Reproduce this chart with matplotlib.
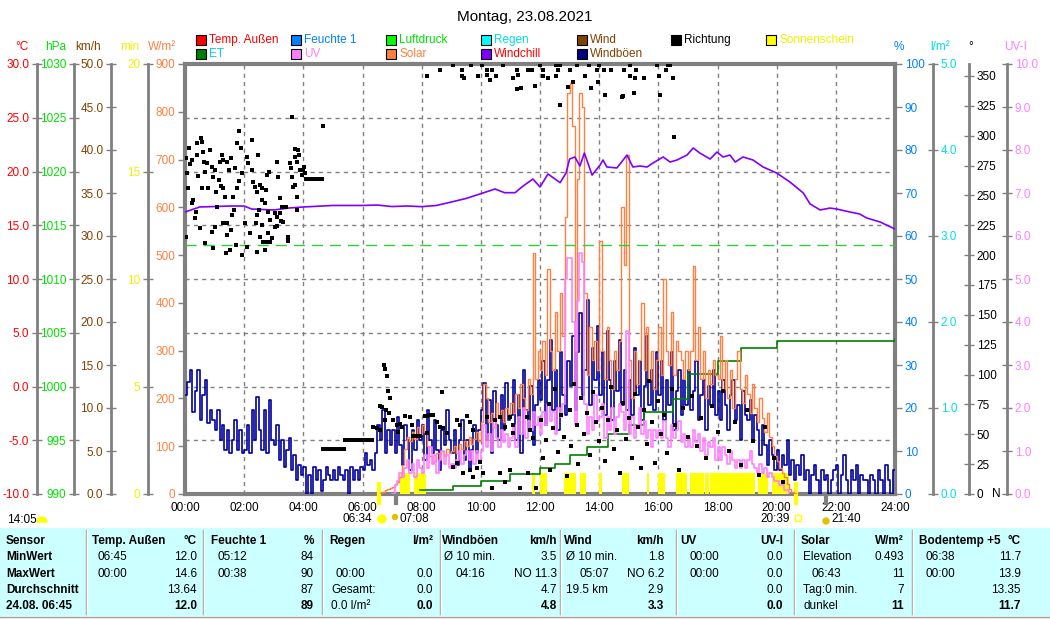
import matplotlib
matplotlib.use("Agg")
import matplotlib.pyplot as plt
from matplotlib.patches import Rectangle, Wedge, Circle
from matplotlib.transforms import IdentityTransform
import numpy as np

plt.rcParams['font.family'] = ['Liberation Sans', 'DejaVu Sans']
plt.rcParams['font.size'] = 8.5

# ---------------- data ----------------
title = "Montag, 23.08.2021"
hour_labels = [f"{h:02d}:00" for h in range(0, 25, 2)]

# wind gusts (km/h), 5-minute steps from 00:00
gust_rows = [
    [11.5, 13.0, 14.4, 9.5, 12.0, 14.4, 8.6, 11.5, 13.3, 8.3, 9.8, 8.6],
    [7.4, 9.8, 6.3, 8.0, 5.1, 7.4, 4.8, 6.3, 8.6, 5.1, 7.4, 4.8],
    [5.1, 8.0, 4.8, 9.8, 6.3, 11.3, 7.4, 5.1, 9.8, 4.8, 10.9, 6.3],
    [5.7, 8.0, 4.0, 6.3, 3.1, 5.1, 6.5, 2.8, 4.5, 1.6, 3.4, 2.2],
    [3.1, 0.0, 2.2, 0.0, 3.1, 1.6, 2.8, 0.3, 1.6, 3.1, 2.2, 1.6],
    [2.8, 1.6, 3.1, 2.2, 1.6, 2.8, 0.0, 3.1, 1.6, 2.8, 1.6, 3.1],
    [2.8, 4.8, 3.4, 4.0, 2.8, 4.8, 8.0, 6.3, 9.8, 4.8, 7.4, 5.7],
    [7.4, 4.8, 9.0, 5.7, 3.4, 8.0, 6.3, 2.8, 7.4, 5.1, 8.6, 6.3],
    [8.0, 4.0, 9.8, 6.3, 4.8, 8.6, 5.1, 2.8, 7.4, 5.7, 9.8, 6.3],
    [4.8, 7.4, 3.4, 6.3, 8.6, 4.0, 6.3, 2.8, 5.1, 8.0, 4.8, 7.4],
    [9.8, 12.9, 6.3, 10.9, 4.8, 12.0, 8.0, 6.3, 11.5, 7.4, 12.9, 8.6],
    [9.2, 13.3, 6.3, 11.5, 4.8, 14.4, 9.8, 7.4, 12.6, 5.7, 10.3, 13.3],
    [10.9, 15.5, 8.0, 13.3, 17.9, 9.8, 14.4, 7.4, 16.5, 11.5, 9.2, 15.5],
    [12.6, 18.4, 9.8, 16.5, 21.0, 11.5, 14.4, 22.6, 10.3, 17.0, 13.3, 19.5],
    [11.5, 16.5, 9.2, 19.0, 13.3, 8.6, 15.5, 12.0, 17.9, 10.3, 14.4, 9.8],
    [13.3, 9.2, 17.0, 11.5, 15.5, 8.6, 12.6, 18.4, 10.3, 14.4, 9.8, 16.5],
    [11.5, 15.5, 8.6, 13.3, 10.3, 16.5, 7.4, 12.0, 14.4, 9.2, 13.3, 10.3],
    [14.4, 9.8, 12.0, 15.5, 8.6, 11.5, 13.3, 7.4, 12.6, 10.3, 14.4, 9.2],
    [12.0, 8.6, 13.3, 10.3, 7.4, 11.5, 13.3, 8.6, 10.3, 6.3, 12.0, 9.2],
    [8.6, 10.9, 6.3, 9.2, 7.4, 4.5, 8.0, 5.7, 3.4, 6.3, 4.5, 2.8],
    [5.1, 2.8, 4.5, 3.4, 6.3, 2.2, 4.0, 1.6, 3.4, 2.2, 4.5, 1.6],
    [2.8, 0.0, 2.2, 3.4, 1.6, 0.0, 2.8, 1.6, 2.2, 0.0, 1.6, 2.8],
    [3.4, 0.0, 2.2, 4.5, 1.6, 0.0, 2.8, 1.6, 3.4, 0.0, 2.2, 1.6],
    [1.6, 0.0, 2.2, 1.6, 0.0, 2.8, 1.6, 0.0, 3.4, 1.6, 0.0, 2.8],
]

# solar radiation (W/m2), 5-minute steps from 06:35
solar_start_h = 6 + 35 / 60
solar_wm2 = [
    2, 5, 8, 10, 12,
    15, 20, 25, 35, 60, 95, 120, 110, 130, 115, 140, 125,
    145, 130, 100, 80, 65, 70, 85, 75, 90, 80, 95, 85,
    90, 100, 85, 105, 95, 110, 100, 120, 105, 115, 130, 110,
    150, 230, 200, 150, 170, 140, 190, 160, 175, 150, 180, 165,
    190, 170, 210, 180, 230, 200, 175, 240, 210, 505, 240, 300,
    260, 320, 250, 470, 300, 260, 380, 300, 420, 330, 580, 840,
    860, 770, 300, 660, 840, 810, 420, 250, 350, 280, 320, 260,
    530, 300, 240, 350, 280, 220, 300, 260, 320, 600, 480, 710,
    280, 200, 300, 230, 280, 400, 260, 350, 240, 300, 220, 280,
    350, 250, 450, 300, 270, 380, 250, 320, 300, 280, 240, 300,
    260, 300, 477, 280, 350, 240, 300, 200, 260, 230, 280, 250,
    240, 330, 220, 280, 200, 260, 180, 240, 300, 220, 190, 250,
    210, 170, 230, 180, 150, 200, 160, 130, 170, 120, 100, 80,
    70, 55, 45, 35, 20, 10, 5, 2, 0,
]

# UV index, 5-minute steps from 07:00
uv_start_h = 7.0
uv_index = [
    0.0, 0.2, 0.3, 0.5, 0.4, 0.6, 0.8, 0.5, 0.7, 0.4, 0.8, 0.6,
    0.5, 0.9, 0.6, 1.1, 0.7, 0.9, 0.5, 0.8, 1.0, 0.7, 0.9, 0.6,
    0.7, 0.6, 0.8, 1.0, 0.7, 0.9, 1.0, 0.8, 1.0, 0.7, 1.0, 0.8,
    1.0, 1.6, 1.1, 1.4, 1.0, 1.7, 1.3, 1.1, 1.5, 1.2, 1.4, 1.1,
    1.3, 1.6, 1.1, 1.8, 1.4, 2.0, 1.3, 1.7, 1.5, 1.9, 1.6, 1.8,
    1.4, 1.9, 1.6, 2.1, 1.7, 1.9, 1.4, 2.0, 1.8, 2.1, 5.0, 5.5,
    5.5, 4.0, 1.6, 4.5, 5.6, 5.4, 2.1, 1.4, 1.8, 1.5, 2.3, 1.7,
    1.8, 2.1, 1.3, 1.8, 1.5, 2.0, 1.4, 1.8, 2.1, 1.9, 1.5, 3.8,
    1.4, 1.8, 1.3, 1.6, 2.0, 1.4, 1.7, 1.3, 1.5, 1.1, 1.5, 1.3,
    1.5, 1.3, 1.7, 1.3, 1.1, 1.6, 1.3, 1.5, 1.7, 1.2, 1.4, 1.1,
    1.3, 1.1, 1.5, 1.2, 1.4, 1.0, 1.3, 0.9, 1.2, 1.1, 1.3, 0.8,
    1.1, 0.8, 1.1, 0.9, 0.7, 1.0, 0.8, 0.6, 0.8, 0.6, 0.8, 0.6,
    0.8, 1.0, 0.7, 0.6, 0.5, 0.7, 0.5, 0.6, 0.4, 0.5, 0.4, 0.3,
    0.3, 0.2, 0.2, 0.1, 0.1, 0.0,
]

# windchill (°C)
windchill_h = [0.0, 0.5, 1.0, 1.5, 2.0, 2.25, 3.0, 3.5, 4.0, 5.0, 6.0, 6.5, 7.0, 7.5, 8.0,
               8.5, 9.0, 9.5, 10.07, 10.48, 10.8, 11.16, 11.4, 11.76, 12.0, 12.27, 12.68,
               12.88, 13.0, 13.18, 13.35, 13.5, 13.76, 14.03, 14.13, 14.26, 14.6, 14.94,
               15.14, 15.38, 15.62, 15.82, 16.16, 16.4, 16.63, 16.97, 17.18, 17.4, 17.75,
               17.98, 18.19, 18.42, 18.6, 18.86, 19.2, 19.54, 20.0, 20.45, 20.9, 21.13,
               21.47, 21.8, 22.03, 22.48, 22.8, 23.05, 23.5, 23.93, 24.0]
windchill_c = [16.23, 16.70, 16.74, 16.79, 16.79, 16.51, 16.42, 16.60, 16.70, 16.84, 16.84,
               16.88, 16.74, 16.79, 16.73, 16.84, 17.16, 17.49, 18.0, 18.37, 18.03, 18.03,
               18.59, 19.30, 18.56, 19.77, 18.96, 19.86, 21.16, 21.35, 20.51, 21.72, 19.67,
               20.60, 21.07, 20.42, 20.33, 21.53, 20.42, 20.51, 20.42, 20.79, 21.35, 20.88,
               21.07, 21.53, 22.19, 21.72, 21.16, 21.81, 21.35, 21.53, 20.88, 21.35, 21.07,
               20.42, 19.86, 19.02, 18.0, 16.98, 16.42, 16.60, 16.51, 16.23, 16.05, 15.67,
               15.30, 14.74, 14.65]

# evapotranspiration (l/m2), cumulative steps
et_h = [7.95, 9.05, 10.0, 11.0, 12.0, 12.5, 13.0, 13.6, 14.3, 15.0, 15.5, 16.5, 17.0,
        18.0, 18.8, 20.0, 24.0]
et_lm2 = [0.05, 0.09, 0.15, 0.23, 0.30, 0.35, 0.45, 0.55, 0.70, 0.80, 0.95, 1.10, 1.40,
          1.55, 1.70, 1.78, 1.80]

# air pressure (hPa)
pressure_h = [0.0, 24.0]
pressure_hpa = [1013.2, 1013.2]

# sunshine (minutes) intervals
sun_start = [7.27, 7.74, 11.73, 12.00, 12.81, 13.35, 13.99, 14.77, 15.62, 15.99, 16.60,
             17.07, 17.58, 17.75, 19.37, 19.84]
sun_end = [7.61, 8.15, 11.83, 12.24, 13.22, 13.55, 14.10, 15.01, 15.69, 16.23, 16.97,
           17.54, 17.71, 19.27, 19.71, 20.42]
sun_minutes = [1.0] * len(sun_start)

# wind direction (hour, degrees)
richtung_pts = [
    (0.03, 281.5), (0.15, 289.4), (0.22, 279.6), (0.17, 276.2), (0.39, 294.1), (0.53, 297.7),
    (0.59, 294.9), (0.62, 286.6), (0.64, 278.2), (0.39, 283.8), (0.06, 268.4), (0.11, 255.9),
    (0.28, 246.1), (0.22, 243.3), (0.36, 236.3), (0.34, 230.8), (0.03, 215.4), (0.51, 222.4),
    (0.68, 209.8), (0.93, 205.7), (0.90, 219.6), (1.01, 223.8), (1.07, 240.5), (0.96, 265.7),
    (0.84, 288.0), (0.90, 274.0), (1.01, 271.2), (1.18, 278.2), (1.24, 283.8), (1.30, 279.6),
    (1.16, 262.9), (1.22, 257.8), (1.30, 255.9), (1.35, 248.9), (1.05, 253.1), (0.79, 255.9),
    (0.56, 255.9), (0.45, 266.2), (0.68, 269.8), (0.73, 276.8), (1.50, 271.2), (1.41, 278.2),
    (1.54, 281.5), (1.69, 272.6), (1.77, 294.1), (1.84, 304.1), (1.88, 289.4), (1.91, 268.4),
    (1.84, 262.3), (1.75, 255.9), (1.63, 248.9), (1.66, 237.7), (1.58, 233.6), (1.41, 226.6),
    (1.54, 221.0), (1.41, 216.8), (1.30, 226.6), (1.39, 202.0), (1.52, 204.3), (1.72, 208.4),
    (1.91, 200.1), (2.03, 226.6), (2.08, 207.1), (2.20, 218.2), (2.25, 296.3), (2.25, 271.2),
    (2.14, 276.8), (2.08, 282.4), (2.31, 261.5), (2.37, 257.3), (2.48, 283.8), (2.53, 258.7),
    (2.42, 253.1), (2.59, 255.9), (2.59, 246.1), (2.51, 237.7), (2.42, 233.6), (2.40, 226.6),
    (2.59, 225.2), (2.53, 215.4), (2.65, 211.2), (2.42, 202.9), (2.70, 204.3), (2.78, 267.0),
    (2.85, 269.8), (2.74, 254.5), (2.70, 243.3), (2.82, 236.3), (2.87, 229.4), (2.82, 218.2),
    (2.78, 211.2), (2.87, 211.2), (2.93, 214.0), (3.04, 223.8), (3.10, 278.2), (3.15, 265.7),
    (3.21, 247.5), (3.27, 240.5), (3.21, 234.9), (3.10, 232.2), (3.04, 234.9), (3.12, 224.4),
    (3.23, 228.5), (3.32, 228.0), (3.41, 240.5), (3.47, 215.4), (3.47, 211.8), (3.55, 276.8),
    (3.57, 272.6), (3.61, 265.7), (3.66, 257.3), (3.72, 288.5), (3.72, 282.4), (3.77, 278.2),
    (3.83, 288.0), (3.85, 283.8), (3.89, 271.2), (3.94, 267.0), (4.00, 271.2), (4.02, 274.0),
    (3.77, 248.9), (3.80, 237.7), (3.38, 240.5), (3.61, 315.3), (3.72, 258.7), (4.65, 308.3),
    (4.06, 269.0),
    (4.08, 264), (4.14, 264), (4.20, 264), (4.26, 264), (4.32, 264), (4.38, 264), (4.44, 264),
    (4.50, 264), (4.56, 264), (4.62, 264),
    (4.67, 38), (4.73, 38), (4.79, 38), (4.85, 38), (4.91, 38), (4.97, 38), (5.03, 38),
    (5.09, 38), (5.15, 38), (5.21, 38), (5.27, 38), (5.33, 38), (5.39, 38),
    (5.42, 45), (5.48, 45), (5.54, 45), (5.60, 45), (5.66, 45), (5.72, 45), (5.78, 45),
    (5.84, 45), (5.90, 45), (5.96, 45), (6.02, 45), (6.08, 45), (6.14, 45), (6.20, 45),
    (6.26, 45), (6.32, 45),
    (6.73, 108), (6.76, 105), (6.82, 98.8), (6.87, 86), (6.93, 80), (6.59, 73.7), (6.65, 72.8),
    (6.79, 70.3), (6.90, 67.8), (6.34, 56), (6.48, 55), (6.59, 53.6), (6.76, 62), (7.04, 62),
    (7.16, 57.8), (7.27, 59), (7.21, 52), (7.32, 56.3), (7.44, 65.3), (7.61, 64.7),
    (7.66, 57.8), (7.72, 48.6), (7.78, 48.6), (7.83, 48.6), (7.89, 48.6), (7.94, 48.6),
    (8.11, 65.5), (8.17, 65.5), (8.26, 66), (8.33, 66), (8.39, 66), (8.17, 51.3), (8.68, 85.6),
    (8.51, 60.5), (8.62, 56.3), (8.73, 55), (8.85, 50.8), (9.18, 62), (9.30, 57.8),
    (9.52, 65.5), (9.63, 60.5), (9.75, 53.6), (9.07, 22.9), (9.18, 25.7), (9.41, 17.3),
    (9.63, 20), (9.75, 14.5), (9.86, 21.5), (9.97, 27), (10.08, 17.3), (10.37, 4.8),
    (10.2, 64.7), (10.48, 62), (10.65, 64.7), (10.82, 56.3), (10.99, 64.7), (11.1, 57.8),
    (10.65, 17.3), (10.82, 10.3), (10.99, 20), (11.32, 4.8), (11.55, 64.7), (11.66, 53.6),
    (11.77, 46.6), (11.6, 17.3), (11.88, 4.8), (11.1, 50.8),
    (12.05, 62), (12.1, 30), (12.2, 45), (12.3, 75), (12.35, 20), (12.45, 55), (12.5, 88),
    (12.6, 35), (12.7, 66), (12.8, 48), (12.9, 15), (13.0, 70), (13.05, 40), (13.15, 92),
    (13.25, 58), (13.3, 25), (13.4, 80), (13.5, 50), (13.6, 68), (13.7, 33), (13.8, 85),
    (13.9, 60), (14.0, 44), (14.1, 72), (14.2, 28), (14.3, 62), (14.4, 90), (14.5, 38),
    (14.6, 54), (14.7, 18), (14.8, 76), (14.9, 46), (15.0, 64), (15.1, 30), (15.2, 84),
    (15.3, 56), (15.4, 22), (15.5, 70), (15.6, 42), (15.7, 95), (15.8, 60), (15.9, 26),
    (16.0, 78), (16.1, 50), (16.2, 66), (16.3, 34), (16.45, 88), (16.55, 58), (16.7, 20),
    (16.85, 72), (17.0, 48), (17.15, 82), (17.3, 40), (17.45, 64), (17.6, 30), (17.8, 74),
    (18.0, 52), (18.2, 86), (18.4, 36), (18.6, 60), (18.8, 24), (19.0, 70), (19.2, 44),
    (19.4, 16), (19.6, 56), (19.9, 30), (20.2, 10),
    (8.17, 350.2), (8.62, 355), (9.07, 359.4), (9.35, 355), (9.38, 350), (9.44, 348.5),
    (9.67, 359.4), (9.89, 350), (10.03, 359.4), (10.2, 355), (10.2, 350.8), (10.3, 346.6),
    (10.37, 355), (10.51, 350.2), (10.76, 359.4), (11.1, 348), (11.21, 355), (11.27, 350.8),
    (11.23, 339), (11.35, 339.6), (11.6, 355), (11.72, 355), (11.83, 341.8), (12.0, 359.4),
    (12.09, 350.2), (12.11, 355), (12.28, 348.5), (12.54, 359.4), (12.54, 350.2),
    (12.68, 359.4), (12.6, 355), (12.68, 326), (12.94, 341), (13.01, 355), (13.1, 345),
    (13.24, 359.4), (13.52, 350.2), (13.66, 359.4), (13.73, 340), (13.94, 355), (13.97, 345),
    (13.99, 359.4), (14.16, 355), (14.2, 334), (14.39, 355), (14.76, 332.6), (14.8, 333.5),
    (14.84, 355), (15.04, 350.2), (15.04, 359.4), (15.18, 336), (15.21, 348.5), (15.25, 355),
    (15.52, 348.5), (15.95, 359.4), (16.02, 350.2), (16.06, 334.3), (16.26, 355),
    (16.32, 359.4), (16.39, 359.4), (16.48, 348.5), (16.53, 299),
]

# astronomical times shown below the axis
moonrise_label, moonrise_h = "14:05", 14 + 5 / 60
sunrise_label, sunrise_h = "06:34", 6 + 34 / 60
dawn_label, dawn_h = "07:08", 7 + 8 / 60
sunset_label, sunset_h = "20:39", 20 + 39 / 60
dusk_label, dusk_h = "21:40", 21 + 40 / 60

# table
table_headers = [("Sensor", ""), ("Temp. Außen", "°C"), ("Feuchte 1", "%"), ("Regen", "l/m²"),
                 ("Windböen", "km/h"), ("Wind", "km/h"), ("UV", "UV-I"), ("Solar", "W/m²"),
                 ("Bodentemp +5", "°C")]
row_names = ["MinWert", "MaxWert", "Durchschnitt", "24.08. 06:45"]
cells_left = [
    ["06:45", "00:00", "", ""],
    ["05:12", "00:38", "", ""],
    ["", "00:00", "Gesamt:", "0.0 l/m²"],
    ["Ø 10 min.", "04:16", "", ""],
    ["Ø 10 min.", "05:07", "19.5 km", ""],
    ["00:00", "00:00", "", ""],
    ["Elevation", "06:43", "Tag:0 min.", "dunkel"],
    ["06:38", "00:00", "", ""],
]
cells_right = [
    ["12.0", "14.6", "13.64", "12.0"],
    ["84", "90", "87", "89"],
    ["", "0.0", "0.0", "0.0"],
    ["3.5", "NO 11.3", "4.7", "4.8"],
    ["1.8", "NO 6.2", "2.9", "3.3"],
    ["0.0", "0.0", "0.0", "0.0"],
    ["0.493", "11", "7", "11"],
    ["11.7", "13.9", "13.35", "11.7"],
]

legend_items = [
    [("Temp. Außen", "#ff0000", "#ff0000"), ("Feuchte 1", "#0080ff", "#0080ff"),
     ("Luftdruck", "#00ff00", "#00e000"), ("Regen", "#00ffff", "#00e0e0"),
     ("Wind", "#804000", "#804000"), ("Richtung", "#000000", "#000000"),
     ("Sonnenschein", "#ffff00", "#f0f000")],
    [("ET", "#008000", "#00d0d0"), ("UV", "#ff80ff", "#ff80ff"),
     ("Solar", "#ff8040", "#ff8040"), ("Windchill", "#8000ff", "#ff0000"),
     ("Windböen", "#000080", "#804000")],
]

# ---------------- drawing ----------------
W, H = 1050, 620
fig = plt.figure(figsize=(W / 100, H / 100), dpi=100)
fig.patch.set_facecolor("white")
IT = IdentityTransform()
GRAY = "#808080"


def ptext(x, y, s, **kw):
    kw.setdefault("va", "center")
    fig.text(x / W, 1 - y / H, s, **kw)


def prect(x0, y0, w, h, **kw):
    fig.add_artist(Rectangle((x0, H - y0 - h), w, h, transform=IT, **kw))


def pline(x0, y0, x1, y1, **kw):
    fig.add_artist(plt.Line2D([x0, x1], [H - y0, H - y1], transform=IT, **kw))


L, R, T, B = 185, 895, 64, 494
rect = [L / W, 1 - B / H, (R - L) / W, (B - T) / H]

# base axes: temperature scale + grid
ax = fig.add_axes(rect)
ax.set_xlim(0, 24)
ax.set_ylim(-10, 30)
ax.set_xticks(range(0, 25, 2))
ax.set_xticklabels(hour_labels)
ax.set_yticks(np.arange(-10, 31, 5))
ax.tick_params(axis="y", left=False, labelleft=False)
ax.tick_params(axis="x", length=0, pad=6, labelsize=8.5)
ax.grid(True, color=GRAY, linestyle=(0, (3, 3)), linewidth=1)
for s in ax.spines.values():
    s.set_color(GRAY)
    s.set_linewidth(3)


def overlay(lo, hi):
    a = fig.add_axes(rect)
    a.set_xlim(0, 24)
    a.set_ylim(lo, hi)
    a.patch.set_visible(False)
    a.axis("off")
    return a


ax_min = overlay(0, 20)
ax_kmh = overlay(0, 50)
ax_lm2 = overlay(0, 5)
ax_sol = overlay(0, 900)
ax_uv = overlay(0, 10)
ax_wc = overlay(-10, 30)
ax_hpa = overlay(990, 1030)
ax_deg = overlay(0, 360)

# sunshine bars
ax_min.bar(sun_start, sun_minutes, width=np.array(sun_end) - np.array(sun_start),
           align="edge", color="#ffff00", edgecolor="none")

# gusts
gust = [v for row in gust_rows for v in row]
gx = np.arange(len(gust) + 1) * 5 / 60
ax_kmh.step(gx, gust + [gust[-1]], where="post", color="#0000a0", lw=1.2)

# ET
ax_lm2.step(et_h, et_lm2, where="post", color="#008000", lw=1.2)

# solar
sx = solar_start_h + np.arange(len(solar_wm2)) * 5 / 60
ax_sol.step(sx, solar_wm2, where="post", color="#ff8040", lw=1.0)

# UV
ux = uv_start_h + np.arange(len(uv_index)) * 5 / 60
ax_uv.step(ux, uv_index, where="post", color="#ff80ff", lw=1.2)

# windchill
ax_wc.plot(windchill_h, windchill_c, color="#8000ff", lw=1.2)

# pressure
ax_hpa.plot(pressure_h, pressure_hpa, color="#30d030", lw=1, dashes=(8, 5))

# wind direction dots
dh = [p[0] for p in richtung_pts]
dd = [p[1] for p in richtung_pts]
ax_deg.plot(dh, dd, ls="none", marker="s", ms=2.6, mew=0, color="black")

# marks below axis (sunrise/sunset in yellow, twilight in gray)
xt = ax.get_xaxis_transform()
for h in (sunrise_h, sunset_h):
    ax.plot([h, h], [-0.021, 0.023], transform=xt, color="#ffff00", lw=3, clip_on=False, zorder=5)
for h in (dawn_h, dusk_h):
    ax.plot([h, h], [-0.021, 0.0], transform=xt, color=GRAY, lw=3, clip_on=False, zorder=5)


# scale axes
def scale_axis(xpx, lo, hi, ticks, labels, color, side, direction="inout", length=7, lw=2):
    a = fig.add_axes([xpx / W, 1 - B / H, 0.00001, (B - T) / H])
    a.set_ylim(lo, hi)
    a.set_xticks([])
    a.patch.set_visible(False)
    for s in a.spines.values():
        s.set_visible(False)
    sp = a.spines["left"]
    sp.set_visible(True)
    sp.set_color(GRAY)
    sp.set_linewidth(lw)
    a.set_yticks(ticks)
    a.set_yticklabels(labels)
    if side == "right":
        a.yaxis.tick_right()
    a.tick_params(axis="y", direction=direction, length=length, width=1, color=GRAY,
                  labelcolor=color, pad=2, labelsize=8.5)
    return a


t = np.arange(-10, 31, 5)
scale_axis(37, -10, 30, t, [f"{v:.1f}" for v in t], "#ff0000", "left")
t = np.arange(990, 1031, 5)
scale_axis(74, 990, 1030, t, [f"{v}" for v in t], "#00e000", "left")
t = np.arange(0, 51, 5)
scale_axis(111, 0, 50, t, [f"{v:.1f}" for v in t], "#804000", "left")
t = np.arange(0, 21, 5)
scale_axis(148, 0, 20, t, [f"{v}" for v in t], "#f0f000", "left")
t = np.arange(0, 901, 100)
scale_axis(185, 0, 900, t, [f"{v}" for v in t], "#ff8040", "left", direction="out", length=5, lw=0)
t = np.arange(0, 101, 10)
scale_axis(895, 0, 100, t, [f"{v}" for v in t], "#0080ff", "right", direction="out", length=5, lw=0)
t = np.arange(0, 6, 1)
scale_axis(933, 0, 5, t, [f"{v:.1f}" for v in t], "#00e0e0", "right")
t = np.arange(0, 351, 25)
scale_axis(969, 0, 360, t, [f"{v}" for v in t], "#000000", "right")
t = np.arange(0, 11, 1)
scale_axis(1007, 0, 10, t, [f"{v:.1f}" for v in t], "#ff80ff", "right")
ptext(996, 494, "N", ha="center", color="black")

# unit headers
for x, s, c in [(22, "°C", "#ff0000"), (56, "hPa", "#00e000"), (88, "km/h", "#804000"),
                (130, "min", "#f0f000"), (162, "W/m²", "#ff8040"), (899, "%", "#0080ff"),
                (940, "l/m²", "#00e0e0"), (971, "°", "#000000"), (1016, "UV-I", "#ff80ff")]:
    ptext(x, 47, s, ha="center", color=c)

# title
ptext(525, 17, title, ha="center", fontsize=11)

# legend
col_x = [196, 291, 386, 481, 577, 671, 766]
for r, row in enumerate(legend_items):
    y = 40 + 14 * r
    for c, (lab, sq, tc) in enumerate(row):
        prect(col_x[c], y - 5, 10, 10, facecolor=sq, edgecolor="black", lw=0.8)
        ptext(col_x[c] + 13, y, lab, ha="left", color=tc)

# astronomical labels
ptext(7, 520, moonrise_label, ha="left")
fig.add_artist(Wedge((42, H - 522), 5, 0, 180, transform=IT, color="#ffff00"))
ptext(372, 519, sunrise_label, ha="right")
fig.add_artist(Circle((382, H - 519), 4, transform=IT, color="#ffff00"))
ptext(400, 519, dawn_label, ha="left")
fig.add_artist(Circle((395, H - 517), 2.5, transform=IT, color="#e0c000"))
ptext(790, 519, sunset_label, ha="right")
prect(795, 515, 6, 6, facecolor="none", edgecolor="#ffff00", lw=1)
ptext(831, 519, dusk_label, ha="left")
fig.add_artist(Circle((826, H - 521), 3, transform=IT, color="#e0c000"))

# table
prect(0, 528, W, 88, facecolor="#ccffff", edgecolor="none")
pline(0, 616.5, W, 616.5, color="#a0a0a0", lw=1)
seps = [86, 203, 322, 440, 560, 676, 794, 912]
for x in seps:
    pline(x, 530, x, 614, color="#a0a0a0", lw=1)
    pline(x + 1, 530, x + 1, 614, color="white", lw=1)
col_left = [6, 92, 211, 329, 442, 564, 680, 801, 919]
col_right = [None, 197, 314, 433, 557, 664, 783, 904, 1021]
time_indent = [0, 5, 6, 6, 13, 15, 10, 10, 7]
row_y = [541, 557.5, 574, 590, 606]

for c, (hl, hr) in enumerate(table_headers):
    ptext(col_left[c], row_y[0], hl, ha="left", fontweight="bold", fontsize=8.5)
    if hr:
        ptext(col_right[c], row_y[0], hr, ha="right", fontweight="bold", fontsize=8.5)
for r, name in enumerate(row_names):
    ptext(col_left[0], row_y[r + 1], name, ha="left", fontweight="bold", fontsize=8.5)
for c in range(8):
    for r in range(4):
        sl = cells_left[c][r]
        if sl:
            ind = time_indent[c + 1] if ":" in sl and sl[0].isdigit() else 2
            ptext(col_left[c + 1] + ind, row_y[r + 1], sl, ha="left", fontsize=8.5)
        sr = cells_right[c][r]
        if sr:
            ptext(col_right[c + 1], row_y[r + 1], sr, ha="right", fontsize=8.5,
                  fontweight="bold" if r == 3 else "normal")

fig.savefig("out.png", dpi=100)
